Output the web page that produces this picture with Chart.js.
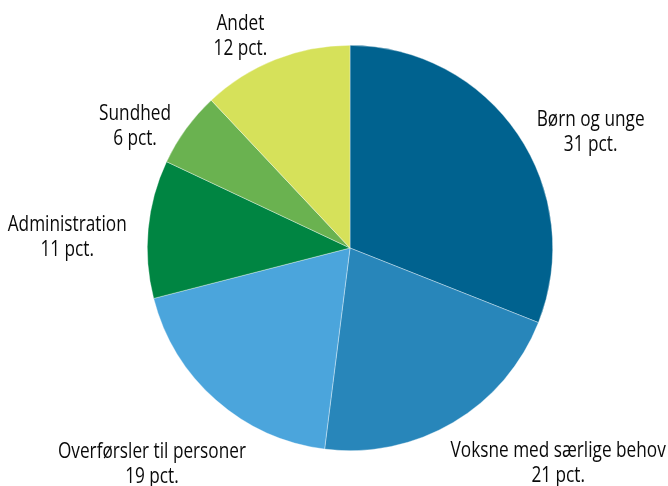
<!DOCTYPE html>
<html>
<head>
<meta charset="utf-8">
<script src="https://cdn.jsdelivr.net/npm/chart.js@4/dist/chart.umd.min.js"></script>
<style>
  html, body { margin: 0; padding: 0; background: #ffffff; }
  #wrap { width: 668px; height: 486px; }
</style>
</head>
<body>
<div id="wrap"><canvas id="c" width="668" height="486"></canvas></div>
<script>
// ---- data ----
const categories = ["Børn og unge", "Voksne med særlige behov", "Overførsler til personer", "Administration", "Sundhed", "Andet"];
const shares = [31, 21, 19, 11, 6, 12];
const valueLabels = ["31 pct.", "21 pct.", "19 pct.", "11 pct.", "6 pct.", "12 pct."];

// ---- style ----
const colors = ["#00628f", "#2886ba", "#4ba5dc", "#008542", "#6ab250", "#d6e15a"];
// label offset (dx, dy of first-line baseline) from the slice's outer mid-point
const labelOffsets = [[73, -8], [105, 35], [-64, 58], [-81, 2], [-51, -9], [-35, -30]];
const FONT_SIZE = 21;
const X_SCALE = 0.82;
const LINE_GAP = 25;

const labelPlugin = {
  id: 'sliceLabels',
  afterDraw(chart) {
    const ctx = chart.ctx;
    const meta = chart.getDatasetMeta(0);
    ctx.save();
    ctx.fillStyle = '#0a0a0a';
    ctx.font = FONT_SIZE + 'px "Open Sans", "Noto Sans", sans-serif';
    ctx.textAlign = 'center';
    ctx.textBaseline = 'alphabetic';
    meta.data.forEach((arc, i) => {
      const p = arc.getProps(['x', 'y', 'startAngle', 'endAngle', 'outerRadius'], true);
      const mid = (p.startAngle + p.endAngle) / 2;
      const ex = p.x + Math.cos(mid) * p.outerRadius;
      const ey = p.y + Math.sin(mid) * p.outerRadius;
      const lx = ex + labelOffsets[i][0];
      const ly = ey + labelOffsets[i][1];
      const lines = [chart.data.labels[i], valueLabels[i]];
      lines.forEach((t, k) => {
        ctx.save();
        ctx.translate(lx, ly + k * LINE_GAP);
        ctx.scale(X_SCALE, 1);
        ctx.fillText(t, 0, 0);
        ctx.restore();
      });
    });
    ctx.restore();
  }
};

new Chart(document.getElementById('c'), {
  type: 'pie',
  data: {
    labels: categories,
    datasets: [{
      data: shares,
      backgroundColor: colors,
      borderWidth: 0.6,
      borderColor: 'rgba(255,255,255,0.6)'
    }]
  },
  options: {
    responsive: false,
    animation: false,
    layout: { padding: { top: 45, bottom: 35, left: 100, right: 68 } },
    plugins: {
      legend: { display: false },
      tooltip: { enabled: false }
    }
  },
  plugins: [labelPlugin]
});
</script>
</body>
</html>
